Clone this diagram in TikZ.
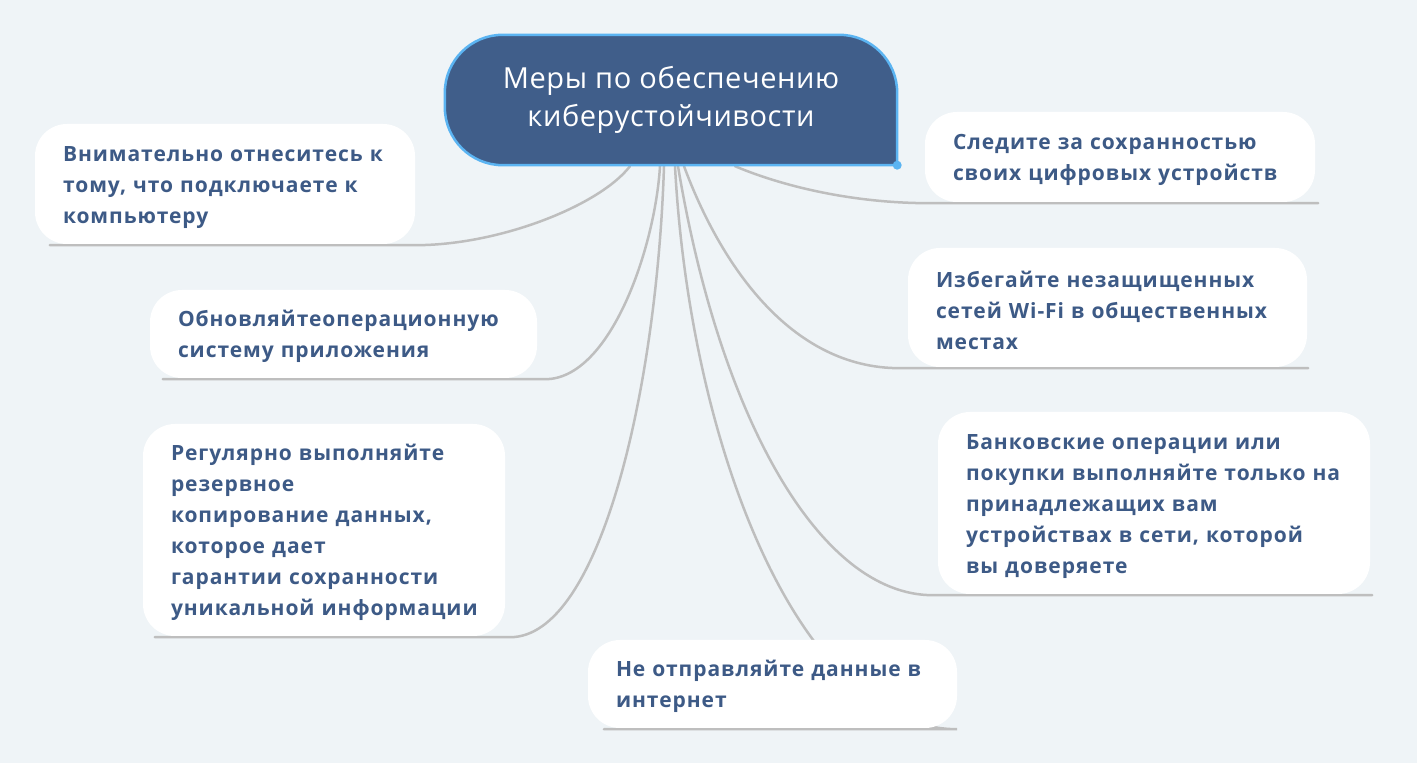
\documentclass[tikz,border=0pt]{standalone}
\usepackage{fontspec}
\setmainfont{Open Sans}
\newfontfamily\rootfont{Open Sans}[LetterSpace=2.0]
\newfontfamily\branchfont{Open Sans}[LetterSpace=4.5]
\usetikzlibrary{calc}
\pgfdeclarelayer{bg}
\pgfdeclarelayer{back}
\pgfsetlayers{bg,back,main}
\definecolor{bgc}{HTML}{EFF4F7}
\definecolor{rootc}{HTML}{405E8A}
\definecolor{rootb}{HTML}{5BB4F2}
\definecolor{txtc}{HTML}{3D5A86}
\definecolor{linec}{HTML}{BEBEBE}
\newcommand{\myline}[1]{\mbox{#1}}
\tikzset{
  roottext/.style={minimum width=452, minimum height=130, inner sep=0, align=center,
    text=white, font=\rootfont\fontsize{29}{38}\selectfont},
  branch/.style={fill=white, rounded corners=32, inner xsep=28, inner ysep=0,
    align=left, text=txtc, font=\branchfont\bfseries\fontsize{21}{31}\selectfont},
  conn/.style={draw=linec, line width=2.5, line cap=round}
}
\begin{document}
\begin{tikzpicture}[x=1pt,y=1pt]
\begin{pgfonlayer}{bg}
\fill[bgc] (0,0) rectangle (1417,763);
\end{pgfonlayer}
\useasboundingbox (0,0) rectangle (1417,763);

\node[roottext] (root) at (671,663) {Меры по обеспечению\\киберустойчивости};

\node[branch, minimum width=380, minimum height=120, text width=324] (b1) at (225,579)
  {\strut\myline{Внимательно отнеситесь к}\\\myline{тому, что подключаете к}\\\myline{компьютеру}};
\node[branch, minimum width=387, minimum height=88, text width=331] (b2) at (343.5,429)
  {\strut\myline{Обновляйтеоперационную}\\\myline{систему приложения}};
\node[branch, minimum width=362, minimum height=212, text width=306] (b3) at (324,233)
  {\strut\myline{Регулярно выполняйте}\\\myline{резервное}\\\myline{копирование данных,}\\\myline{которое дает}\\\myline{гарантии сохранности}\\\myline{уникальной информации}};
\node[branch, minimum width=369, minimum height=88, text width=313] (b4) at (772.5,79)
  {\strut\myline{Не отправляйте данные в}\\\myline{интернет}};
\node[branch, minimum width=390, minimum height=90, text width=334] (b5) at (1120,606)
  {\strut\myline{Следите за сохранностью}\\\myline{своих цифровых устройств}};
\node[branch, minimum width=399, minimum height=119, text width=343] (b6) at (1107.5,455.5)
  {\strut\myline{Избегайте незащищенных}\\\myline{сетей Wi-Fi в общественных}\\\myline{местах}};
\node[branch, minimum width=432, minimum height=182, text width=376] (b7) at (1154,260)
  {\strut\myline{Банковские операции или}\\\myline{покупки выполняйте только на}\\\myline{принадлежащих вам}\\\myline{устройствах в сети, которой}\\\myline{вы доверяете}};

\begin{pgfonlayer}{back}
\draw[conn] ([xshift=-41,yshift=-1]root.south) .. controls +(-30,-39) and +(85,0) .. ([yshift=-1]b1.south east) -- ([xshift=15,yshift=-1]b1.south west);
\draw[conn] ([xshift=-11,yshift=-1]root.south) .. controls +(-5,-82) and +(65,0) .. ([xshift=8,yshift=-1]b2.south east) -- ([xshift=13,yshift=-1]b2.south west);
\draw[conn] ([xshift=-7,yshift=-1]root.south) .. controls +(-7,-222) and +(90,0) .. ([xshift=5,yshift=-1]b3.south east) -- ([xshift=12,yshift=-1]b3.south west);
\draw[conn] ([xshift=4,yshift=-1]root.south) .. controls +(15,-282) and +(-157,0) .. ([yshift=-1]b4.south east) -- ([xshift=16,yshift=-1]b4.south west);
\draw[conn] ([xshift=64,yshift=-1]root.south) .. controls +(45,-19) and +(-80,0) .. ([xshift=5,yshift=-1]b5.south west) -- ([xshift=3,yshift=-1]b5.south east);
\draw[conn] ([xshift=13,yshift=-1]root.south) .. controls +(36,-97) and +(-110,0) .. ([xshift=-8,yshift=-1]b6.south west) -- ([xshift=1,yshift=-1]b6.south east);
\draw[conn] ([xshift=7,yshift=-1]root.south) .. controls +(42,-252) and +(-113,0) .. ([xshift=-5,yshift=-1]b7.south west) -- ([xshift=2,yshift=-1]b7.south east);
\draw[fill=rootc, draw=rootb, line width=2.5]
  (root.south east) -- ([yshift=-58]root.north east) arc[start angle=0, end angle=90, radius=58]
  -- ([xshift=58]root.north west) arc[start angle=90, end angle=180, radius=58]
  -- ([yshift=58]root.south west) arc[start angle=180, end angle=270, radius=58]
  -- cycle;
\fill[rootb] (root.south east) circle (4.5);
\end{pgfonlayer}
\end{tikzpicture}
\end{document}
